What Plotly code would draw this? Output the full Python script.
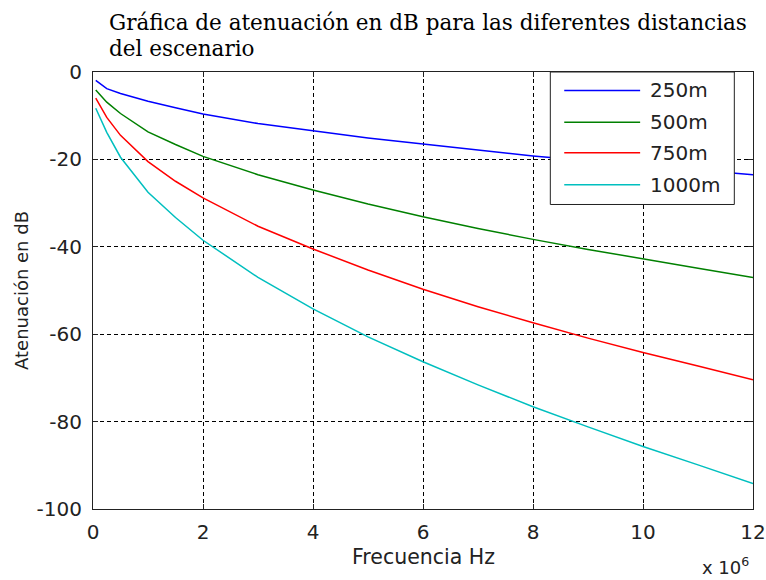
import plotly.graph_objects as go

# Frequency in Hz
freq_hz = [0.05e6, 0.25e6, 0.5e6, 1e6, 1.5e6, 2e6, 3e6, 4e6, 5e6, 6e6, 7e6, 8e6, 9e6, 10e6, 11e6, 12e6]

att_250 = [-1.9, -3.8, -4.9, -6.7, -8.2, -9.6, -11.8, -13.5, -15.1, -16.5, -17.9, -19.2, -20.3, -21.4, -22.5, -23.5]
att_500 = [-4.1, -6.9, -9.5, -13.7, -16.6, -19.3, -23.5, -27.0, -30.2, -33.1, -35.8, -38.3, -40.6, -42.8, -44.9, -47.0]
att_750 = [-6.0, -10.4, -14.5, -20.5, -25.0, -28.8, -35.3, -40.5, -45.3, -49.7, -53.7, -57.4, -60.9, -64.2, -67.3, -70.4]
att_1000 = [-8.3, -13.8, -19.5, -27.5, -33.3, -38.5, -47.0, -54.2, -60.6, -66.3, -71.6, -76.6, -81.2, -85.7, -89.9, -94.2]

series_names = ["250m", "500m", "750m", "1000m"]
series_values = [att_250, att_500, att_750, att_1000]
series_colors = ["#0000FF", "#008000", "#FF0000", "#00BFBF"]

x_tickvals = [0, 2e6, 4e6, 6e6, 8e6, 10e6, 12e6]
x_ticktext = ["0", "2", "4", "6", "8", "10", "12"]
y_tickvals = [-100, -80, -60, -40, -20, 0]
y_ticktext = ["-100", "-80", "-60", "-40", "-20", "0"]

title_lines = ["Gráfica de atenuación en dB para las diferentes distancias", "del escenario"]
x_title = "Frecuencia Hz"
y_title = "Atenuación en dB"

SANS = "DejaVu Sans, Arial, sans-serif"
SERIF = "DejaVu Serif, Times New Roman, serif"
INK = "#222"

fig = go.Figure()
for name, vals, col in zip(series_names, series_values, series_colors):
    fig.add_trace(go.Scatter(x=freq_hz, y=vals, mode="lines", name=name,
                             line=dict(color=col, width=1.5), showlegend=False))

axis_common = dict(
    showline=True, linecolor=INK, linewidth=1, mirror="ticks",
    ticks="inside", ticklen=5, tickcolor=INK, automargin=False,
    showgrid=True, gridcolor="black", gridwidth=1, griddash="4px,3px",
    zeroline=False, tickfont=dict(family=SANS, size=20, color=INK),
)

fig.update_xaxes(range=[0, 12e6], tickvals=x_tickvals, ticktext=x_ticktext, ticklabelstandoff=5,
                 **axis_common)
fig.update_yaxes(range=[-100, 0], tickvals=y_tickvals, ticktext=y_ticktext, ticklabelstandoff=6,
                 title=dict(text=y_title, font=dict(family=SANS, size=18, color=INK), standoff=3),
                 **axis_common)

# Manual legend (MATLAB style)
shapes = [dict(type="rect", xref="paper", yref="paper", x0=0.6929, x1=0.9717, y0=0.6968, y1=1.0,
               fillcolor="white", line=dict(color=INK, width=1), layer="above")]
annotations = []
leg_y = [0.9577, 0.8851, 0.8151, 0.7419]
for name, col, yy in zip(series_names, series_colors, leg_y):
    shapes.append(dict(type="line", xref="paper", yref="paper", x0=0.714, x1=0.829, y0=yy, y1=yy,
                       line=dict(color=col, width=1.5), layer="above"))
    annotations.append(dict(xref="paper", yref="paper", x=0.841, y=yy, text=name, showarrow=False,
                            xanchor="left", yanchor="middle", font=dict(family=SANS, size=20, color=INK)))

annotations.append(dict(xref="paper", yref="paper", x=0.5, y=-0.11, text=x_title, showarrow=False,
                        xanchor="center", yanchor="middle", font=dict(family=SANS, size=20.5, color=INK)))

annotations.append(dict(xref="paper", yref="paper", x=0.997, y=-0.162, text="x 10<sup>6</sup>", showarrow=False,
                        xanchor="right", yanchor="bottom", font=dict(family=SANS, size=18, color=INK)))

for txt, yy in zip(title_lines, [1.1133, 1.0538]):
    annotations.append(dict(xref="paper", yref="paper", x=0.0217, y=yy, text=txt, showarrow=False,
                            xanchor="left", yanchor="middle", font=dict(family=SERIF, size=21.5, color="black")))

fig.update_layout(
    width=766, height=580,
    margin=dict(l=93, r=13, t=72, b=71),
    paper_bgcolor="white", plot_bgcolor="white",
    shapes=shapes, annotations=annotations,
)

fig.write_html("out.html", config={"displayModeBar": False},
               post_script="document.body.style.margin='0';")
